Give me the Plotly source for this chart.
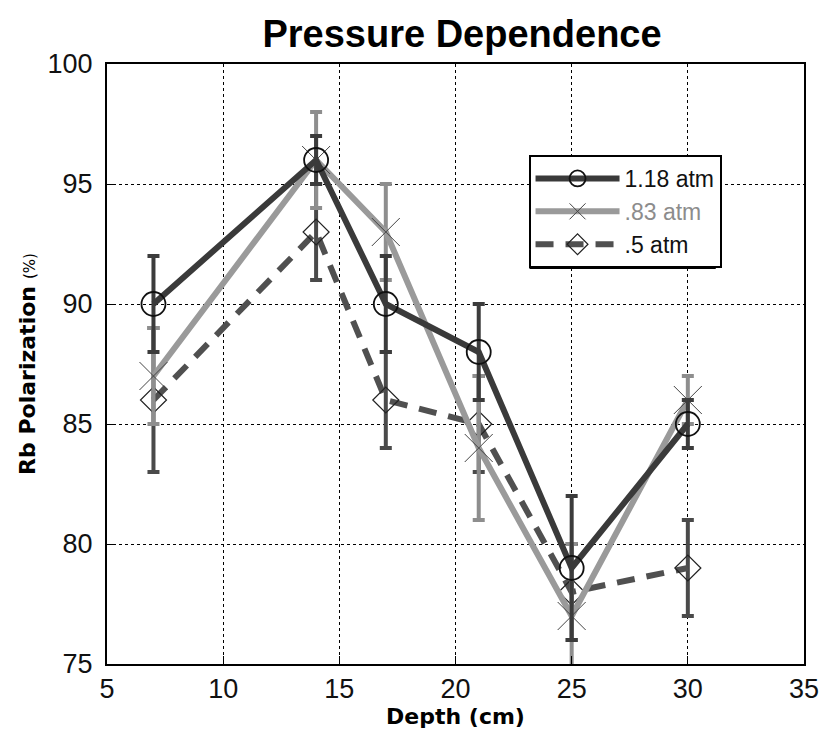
import plotly.graph_objects as go

# Depth of each measurement (cm)
depth = [7, 14, 17, 21, 25, 30]

# Rb polarization (%) for each cell pressure
pol_118 = [90, 96, 90, 88, 79, 85]
err_118 = [2, 1, 2, 2, 3, 1]

pol_083 = [87, 96, 93, 84, 77, 86]
err_083 = [2, 2, 2, 3, 3, 1]

pol_05 = [86, 93, 86, 85, 78, 79]
err_05 = [3, 2, 2, 2, 2, 2]

series_names = ["1.18 atm", ".83 atm", ".5 atm"]

fig = go.Figure()

fig.add_trace(go.Scatter(
    x=depth, y=pol_05, name=series_names[2], mode="lines+markers",
    line=dict(color="#505050", width=6, dash="18px,12px"),
    marker=dict(symbol="diamond-open", size=20, color="#222222", line=dict(width=1.2)),
    error_y=dict(type="data", array=err_05, color="#4a4a4a", thickness=4, width=6),
))
fig.add_trace(go.Scatter(
    x=depth, y=pol_083, name="<span style='color:#8c8c8c'>" + series_names[1] + "</span>",
    mode="lines+markers",
    line=dict(color="#9a9a9a", width=6),
    marker=dict(symbol="x-thin-open", size=28, color="#444444", line=dict(width=1)),
    error_y=dict(type="data", array=err_083, color="#8e8e8e", thickness=4, width=6),
))
fig.add_trace(go.Scatter(
    x=depth, y=pol_118, name=series_names[0], mode="lines+markers",
    line=dict(color="#3a3a3a", width=6),
    marker=dict(symbol="circle-open", size=24, color="#111111", line=dict(width=1.8)),
    error_y=dict(type="data", array=err_118, color="#3c3c3c", thickness=4, width=6),
))

axis_font = dict(family="Liberation Sans, Arial, sans-serif", size=27, color="#111111")
title_font = dict(family="DejaVu Sans, sans-serif", size=22, color="#000000")


def px_x(p):
    return (p - 107) / 711.0


def px_y(p):
    return 1 - (p - 64) / 600.0


# Drop shadow behind the legend box
fig.add_shape(type="rect", xref="paper", yref="paper",
              x0=px_x(538), x1=px_x(728), y0=px_y(269), y1=px_y(162),
              fillcolor="black", line=dict(width=0), layer="above")

fig.update_layout(
    width=831, height=739,
    margin=dict(l=107, r=13, t=64, b=75),
    paper_bgcolor="white", plot_bgcolor="white",
    title=dict(text="<b>Pressure Dependence</b>", x=0.556, xanchor="center",
               y=0.955, yanchor="middle",
               font=dict(family="Liberation Sans, Arial, sans-serif", size=38, color="#000000")),
    legend=dict(x=px_x(537), y=px_y(155), xanchor="left", yanchor="top",
                traceorder="reversed",
                bgcolor="white", bordercolor="black", borderwidth=2,
                font=dict(family="Liberation Sans, Arial, sans-serif", size=23, color="#111111"),
                itemwidth=84, tracegroupgap=0),
    showlegend=True,
)

fig.update_xaxes(
    range=[5, 35], tickvals=[5, 10, 15, 20, 25, 30, 35],
    showgrid=True, gridcolor="black", griddash="dot", gridwidth=1,
    showline=True, linecolor="black", linewidth=2, mirror=True,
    ticks="inside", ticklen=8, tickcolor="black", tickwidth=1,
    tickfont=axis_font, zeroline=False, ticklabeloverflow="allow",
    title=dict(text="<b>Depth (cm)</b>", font=title_font, standoff=2),
)
fig.update_yaxes(
    range=[75, 100], tickvals=[75, 80, 85, 90, 95, 100],
    showgrid=True, gridcolor="black", griddash="dot", gridwidth=1,
    showline=True, linecolor="black", linewidth=2, mirror=True,
    ticks="inside", ticklen=8, tickcolor="black", tickwidth=1,
    tickfont=axis_font, zeroline=False, ticklabelstandoff=7,
    title=dict(text="<b>Rb Polarization</b> <span style='font-size:15px'>(%)</span>",
               font=title_font, standoff=6),
)

fig.write_html("out.html")
